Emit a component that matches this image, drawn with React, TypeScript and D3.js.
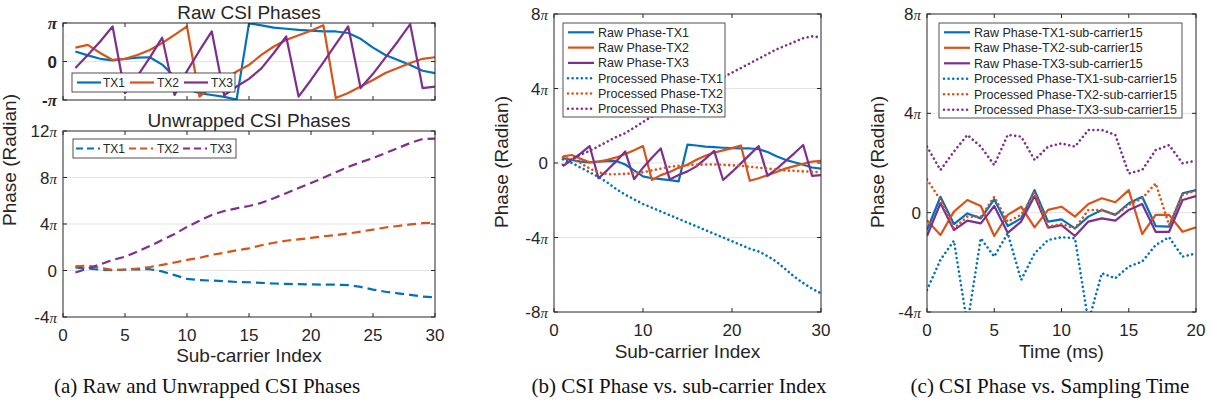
import React from 'react';
import * as d3 from 'd3';

// all phase values are in units of pi
const SUBCARRIER = [1, 2, 3, 4, 5, 6, 7, 8, 9, 10, 11, 12, 13, 14, 15, 16, 17, 18, 19, 20, 21, 22, 23, 24, 25, 26, 27, 28, 29, 30];
const TIME_MS = [0, 1, 2, 3, 4, 5, 6, 7, 8, 9, 10, 11, 12, 13, 14, 15, 16, 17, 18, 19, 20];

const RAW_TX1 = [0.26, 0.16, 0.07, 0.03, 0.07, 0.1, 0.11, -0.08, -0.4, -0.72, -0.82, -0.87, -0.92, -0.99, 0.99, 0.94, 0.88, 0.85, 0.82, 0.8, 0.78, 0.78, 0.74, 0.59, 0.36, 0.17, 0.04, -0.09, -0.24, -0.3];
const RAW_TX2 = [0.36, 0.43, 0.22, 0.04, 0.07, 0.17, 0.3, 0.48, 0.69, 0.91, -0.91, -0.65, -0.48, -0.26, -0.09, 0.17, 0.39, 0.56, 0.68, 0.8, 0.94, -0.95, -0.82, -0.65, -0.48, -0.3, -0.17, -0.04, 0.07, 0.11];
const RAW_TX3 = [-0.17, 0.17, 0.52, 0.91, -0.82, -0.38, 0.1, 0.62, -0.87, -0.25, 0.28, 0.78, -0.88, -0.65, -0.45, -0.18, 0.22, 0.65, -0.91, -0.48, -0.02, 0.45, 0.91, -0.69, -0.32, 0.1, 0.52, 0.97, -0.69, -0.65];

const UNWRAP_TX1 = [0.26, 0.16, 0.07, 0.03, 0.07, 0.1, 0.11, -0.08, -0.4, -0.72, -0.82, -0.87, -0.92, -0.99, -1.01, -1.06, -1.12, -1.15, -1.18, -1.2, -1.22, -1.22, -1.26, -1.41, -1.64, -1.83, -1.96, -2.09, -2.24, -2.3];
const UNWRAP_TX2 = [0.36, 0.43, 0.22, 0.04, 0.07, 0.17, 0.3, 0.48, 0.69, 0.91, 1.09, 1.35, 1.52, 1.74, 1.91, 2.17, 2.39, 2.56, 2.68, 2.8, 2.94, 3.05, 3.18, 3.35, 3.52, 3.7, 3.83, 3.96, 4.07, 4.11];
const UNWRAP_TX3 = [-0.17, 0.17, 0.52, 0.91, 1.18, 1.62, 2.1, 2.62, 3.13, 3.75, 4.28, 4.78, 5.12, 5.35, 5.55, 5.82, 6.22, 6.65, 7.09, 7.52, 7.98, 8.45, 8.91, 9.31, 9.68, 10.1, 10.52, 10.97, 11.31, 11.35];

const PROC_TX1 = [0.2, 0.0, -0.25, -0.5, -0.75, -1.05, -1.4, -1.7, -1.95, -2.2, -2.4, -2.6, -2.8, -3.0, -3.2, -3.4, -3.6, -3.8, -4.0, -4.2, -4.4, -4.6, -4.75, -5.0, -5.3, -5.7, -6.1, -6.45, -6.75, -7.0];
const PROC_TX2 = [0.3, 0.2, 0.0, -0.3, -0.5, -0.6, -0.6, -0.58, -0.55, -0.5, -0.4, -0.3, -0.2, -0.15, -0.12, -0.1, -0.08, -0.08, -0.1, -0.12, -0.15, -0.2, -0.25, -0.3, -0.35, -0.4, -0.42, -0.45, -0.47, -0.5];
const PROC_TX3 = [-0.1, 0.2, 0.45, 0.65, 0.9, 1.15, 1.4, 1.6, 1.9, 2.2, 2.5, 2.8, 3.1, 3.4, 3.6, 3.85, 4.1, 4.35, 4.6, 4.85, 5.1, 5.35, 5.6, 5.85, 6.1, 6.3, 6.5, 6.7, 6.8, 6.75];

const T_RAW_TX1 = [-0.7, 0.64, -0.46, -0.03, -0.23, 0.54, -0.54, -0.23, 0.91, -0.36, -0.27, -0.63, -0.16, 0.11, -0.09, 0.38, 0.64, -0.54, -0.56, 0.78, 0.91];
const T_RAW_TX2 = [-0.3, -0.9, 0.04, 0.51, 0.27, -0.94, -0.09, 0.24, -0.59, 0.11, 0.24, -0.16, 0.35, 0.58, 0.42, 0.91, -0.86, -0.09, -0.09, -0.77, -0.59];
const T_RAW_TX3 = [-0.94, 0.38, -0.7, -0.32, -0.43, 0.27, -0.81, -0.36, 0.67, -0.6, -0.5, -0.94, -0.36, -0.23, -0.32, 0.11, 0.35, -0.77, -0.77, 0.51, 0.67];
const T_PROC_TX1 = [-3.11, -1.9, -1.13, -4.5, -1.03, -1.77, -0.83, -2.71, -1.64, -1.1, -0.99, -1.03, -4.4, -2.44, -2.64, -2.17, -1.97, -1.3, -0.99, -1.77, -1.64];
const T_PROC_TX2 = [1.34, 0.51, -0.63, -0.16, -0.16, 0.64, -0.36, -0.09, 0.81, -0.56, -0.46, -0.63, 0.11, 0.11, -0.09, 0.31, 0.58, 1.18, -0.5, 0.71, 0.89];
const T_PROC_TX3 = [2.66, 1.72, 2.46, 3.13, 2.66, 1.92, 3.13, 3.06, 2.12, 2.66, 2.79, 2.66, 3.33, 3.33, 3.13, 1.58, 1.72, 2.52, 2.72, 1.99, 2.09];

const TX_NAMES = ['TX1', 'TX2', 'TX3'];
const B_LEGEND = ['Raw Phase-TX1', 'Raw Phase-TX2', 'Raw Phase-TX3', 'Processed Phase-TX1', 'Processed Phase-TX2', 'Processed Phase-TX3'];
const C_LEGEND = ['Raw Phase-TX1-sub-carrier15', 'Raw Phase-TX2-sub-carrier15', 'Raw Phase-TX3-sub-carrier15', 'Processed Phase-TX1-sub-carrier15', 'Processed Phase-TX2-sub-carrier15', 'Processed Phase-TX3-sub-carrier15'];

const BLUE = '#0072BD';
const ORANGE = '#D95319';
const PURPLE = '#7E2F8E';
const COLORS = [BLUE, ORANGE, PURPLE];
const AX = '#262626';
const GRID = '#e3e3e3';
const SANS = '"Liberation Sans", Arial, sans-serif';
const SERIF = '"Liberation Serif", "Times New Roman", serif';
const DASH = '9 5';
const DOT = '0.01 4.6';

type Series = { xs: number[]; ys: number[]; color: string; dash?: string };

const piText = (v: number, bold = false) => {
  if (v === 0) return <tspan>0</tspan>;
  const n = Math.abs(v) === 1 ? '' : String(Math.abs(v));
  return (
    <>
      <tspan>{(v < 0 ? '-' : '') + n}</tspan>
      <tspan fontFamily={SERIF} fontStyle="italic" fontSize={bold ? 17 : 15} fontWeight={bold ? 'bold' : 'normal'}>π</tspan>
    </>
  );
};

type AxesProps = {
  id: string; x0: number; y0: number; w: number; h: number;
  xDomain: [number, number]; yDomain: [number, number];
  xTicks: number[]; yTicks: number[]; gridY: number[];
  xLabels?: boolean; boldY?: boolean; series: Series[];
};

const Axes = ({ id, x0, y0, w, h, xDomain, yDomain, xTicks, yTicks, gridY, xLabels = true, boldY = false, series }: AxesProps) => {
  const xs = d3.scaleLinear().domain(xDomain).range([x0, x0 + w]);
  const ys = d3.scaleLinear().domain(yDomain).range([y0 + h, y0]);
  const line = d3.line<[number, number]>().x(d => xs(d[0])).y(d => ys(d[1]));
  const tl = 4;
  return (
    <g>
      <clipPath id={id}><rect x={x0} y={y0} width={w} height={h} /></clipPath>
      <rect x={x0} y={y0} width={w} height={h} fill="#fff" />
      {gridY.map(v => (
        <line key={'g' + v} x1={x0} x2={x0 + w} y1={ys(v)} y2={ys(v)} stroke={GRID} strokeWidth={1} />
      ))}
      <g clipPath={`url(#${id})`}>
        {series.map((s, i) => (
          <path key={i} d={line(s.xs.map((x, j) => [x, s.ys[j]] as [number, number])) || ''}
            fill="none" stroke={s.color} strokeWidth={s.dash === DOT ? 2.6 : 2.2} strokeDasharray={s.dash}
            strokeLinejoin="round" strokeLinecap={s.dash === DOT ? 'round' : 'butt'} />
        ))}
      </g>
      <rect x={x0} y={y0} width={w} height={h} fill="none" stroke={AX} strokeWidth={1} />
      {xTicks.map(t => (
        <g key={'x' + t}>
          <line x1={xs(t)} x2={xs(t)} y1={y0 + h} y2={y0 + h - tl} stroke={AX} />
          <line x1={xs(t)} x2={xs(t)} y1={y0} y2={y0 + tl} stroke={AX} />
          {xLabels && (
            <text x={xs(t)} y={y0 + h + 23.5} textAnchor="middle" fontFamily={SANS} fontSize={17} fill={AX}>{t}</text>
          )}
        </g>
      ))}
      {yTicks.map(t => (
        <g key={'y' + t}>
          <line x1={x0} x2={x0 + tl} y1={ys(t)} y2={ys(t)} stroke={AX} />
          <line x1={x0 + w} x2={x0 + w - tl} y1={ys(t)} y2={ys(t)} stroke={AX} />
          <text x={x0 - 6} y={ys(t) + 6} textAnchor="end" fontFamily={SANS} fontSize={17}
            fontWeight={boldY ? 'bold' : 'normal'} fill={AX}>{piText(t, boldY)}</text>
        </g>
      ))}
    </g>
  );
};

type LegendItem = { label: string; color: string; dash?: string };

const HLegend = ({ x, y, w, h, items, sampleX, textX }: { x: number; y: number; w: number; h: number; items: LegendItem[]; sampleX: number[]; textX: number[] }) => (
  <g>
    <rect x={x} y={y} width={w} height={h} fill="#fff" stroke={AX} strokeWidth={0.8} />
    {items.map((it, i) => (
      <g key={i}>
        <line x1={sampleX[i]} x2={sampleX[i] + 24} y1={y + h / 2} y2={y + h / 2} stroke={it.color} strokeWidth={2.2} strokeDasharray={it.dash} />
        <text x={textX[i]} y={y + h / 2 + 4.3} fontFamily={SANS} fontSize={12} fill={AX}>{it.label}</text>
      </g>
    ))}
  </g>
);

const VLegend = ({ x, y, w, h, items, rowH, firstY }: { x: number; y: number; w: number; h: number; items: LegendItem[]; rowH: number; firstY: number }) => (
  <g>
    <rect x={x} y={y} width={w} height={h} fill="#fff" stroke={AX} strokeWidth={0.8} />
    {items.map((it, i) => {
      const cy = firstY + i * rowH;
      const dotted = it.dash === DOT;
      return (
        <g key={i}>
          <line x1={x + 5} x2={x + 31} y1={cy} y2={cy} stroke={it.color} strokeWidth={dotted ? 2.6 : 2.2}
            strokeDasharray={it.dash} strokeLinecap={dotted ? 'round' : 'butt'} />
          <text x={x + 35} y={cy + 4.5} fontFamily={SANS} fontSize={12.5} fill={AX}>{it.label}</text>
        </g>
      );
    })}
  </g>
);

const YLabel = ({ x, y }: { x: number; y: number }) => (
  <text transform={`translate(${x},${y}) rotate(-90)`} textAnchor="middle" fontFamily={SANS} fontSize={19} fill={AX}>Phase (Radian)</text>
);

const Caption = ({ x, text }: { x: number; text: string }) => (
  <text x={x} y={393} textAnchor="middle" fontFamily={SERIF} fontSize={21} fill="#111">{text}</text>
);

export default function App() {
  const rawA = [RAW_TX1, RAW_TX2, RAW_TX3];
  const unwA = [UNWRAP_TX1, UNWRAP_TX2, UNWRAP_TX3];
  const procB = [PROC_TX1, PROC_TX2, PROC_TX3];
  const rawC = [T_RAW_TX1, T_RAW_TX2, T_RAW_TX3];
  const procC = [T_PROC_TX1, T_PROC_TX2, T_PROC_TX3];

  const seriesA1: Series[] = rawA.map((ys, i) => ({ xs: SUBCARRIER, ys, color: COLORS[i] }));
  const seriesA2: Series[] = unwA.map((ys, i) => ({ xs: SUBCARRIER, ys, color: COLORS[i], dash: DASH }));
  const seriesB: Series[] = [
    ...rawA.map((ys, i) => ({ xs: SUBCARRIER, ys, color: COLORS[i] })),
    ...procB.map((ys, i) => ({ xs: SUBCARRIER, ys, color: COLORS[i], dash: DOT })),
  ];
  const seriesC: Series[] = [
    ...rawC.map((ys, i) => ({ xs: TIME_MS, ys, color: COLORS[i] })),
    ...procC.map((ys, i) => ({ xs: TIME_MS, ys, color: COLORS[i], dash: DOT })),
  ];
  const legA1 = TX_NAMES.map((n, i) => ({ label: n, color: COLORS[i] }));
  const legA2 = TX_NAMES.map((n, i) => ({ label: n, color: COLORS[i], dash: '7 4' }));
  const legB = B_LEGEND.map((n, i) => ({ label: n, color: COLORS[i % 3], dash: i >= 3 ? DOT : undefined }));
  const legC = C_LEGEND.map((n, i) => ({ label: n, color: COLORS[i % 3], dash: i >= 3 ? DOT : undefined }));

  return (
    <svg width={1215} height={407} style={{ position: 'absolute', left: 0, top: 0, background: '#fff' }}>
      {/* (a) */}
      <text x={249} y={19} textAnchor="middle" fontFamily={SANS} fontSize={19} fill={AX}>Raw CSI Phases</text>
      <Axes id="ca1" x0={63} y0={23} w={372} h={77} xDomain={[0, 30]} yDomain={[-1, 1]}
        xTicks={[0, 5, 10, 15, 20, 25, 30]} yTicks={[-1, 0, 1]} gridY={[0]} xLabels={false} boldY series={seriesA1} />
      <HLegend x={72} y={73} w={163} h={19} items={legA1} sampleX={[77, 130, 184]} textX={[103, 157, 211]} />
      <text x={249} y={127} textAnchor="middle" fontFamily={SANS} fontSize={19} fill={AX}>Unwrapped CSI Phases</text>
      <Axes id="ca2" x0={63} y0={131} w={372} h={186} xDomain={[0, 30]} yDomain={[-4, 12]}
        xTicks={[0, 5, 10, 15, 20, 25, 30]} yTicks={[-4, 0, 4, 8, 12]} gridY={[0, 4, 8]} series={seriesA2} />
      <HLegend x={73} y={139} w={163} h={19} items={legA2} sampleX={[76, 129, 183]} textX={[103, 157, 210]} />
      <YLabel x={16} y={160} />
      <text x={249} y={362} textAnchor="middle" fontFamily={SANS} fontSize={19} fill={AX}>Sub-carrier Index</text>

      {/* (b) */}
      <Axes id="cb" x0={554} y0={14} w={267} h={298} xDomain={[0, 30]} yDomain={[-8, 8]}
        xTicks={[0, 10, 20, 30]} yTicks={[-8, -4, 0, 4, 8]} gridY={[-4, 0, 4]} series={seriesB} />
      <VLegend x={563} y={23} w={162} h={94} items={legB} rowH={15.3} firstY={32.3} />
      <YLabel x={508} y={162} />
      <text x={687.5} y={358} textAnchor="middle" fontFamily={SANS} fontSize={19} fill={AX}>Sub-carrier Index</text>

      {/* (c) */}
      <Axes id="cc" x0={927} y0={14} w={269} h={298} xDomain={[0, 20]} yDomain={[-4, 8]}
        xTicks={[0, 5, 10, 15, 20]} yTicks={[-4, 0, 4, 8]} gridY={[0, 4]} series={seriesC} />
      <VLegend x={939} y={23} w={243} h={95} items={legC} rowH={15.5} firstY={32.3} />
      <YLabel x={884} y={162} />
      <text x={1061.5} y={358} textAnchor="middle" fontFamily={SANS} fontSize={19} fill={AX}>Time (ms)</text>

      <Caption x={207} text="(a) Raw and Unwrapped CSI Phases" />
      <Caption x={679} text="(b) CSI Phase vs. sub-carrier Index" />
      <Caption x={1050} text="(c) CSI Phase vs. Sampling Time" />
    </svg>
  );
}
